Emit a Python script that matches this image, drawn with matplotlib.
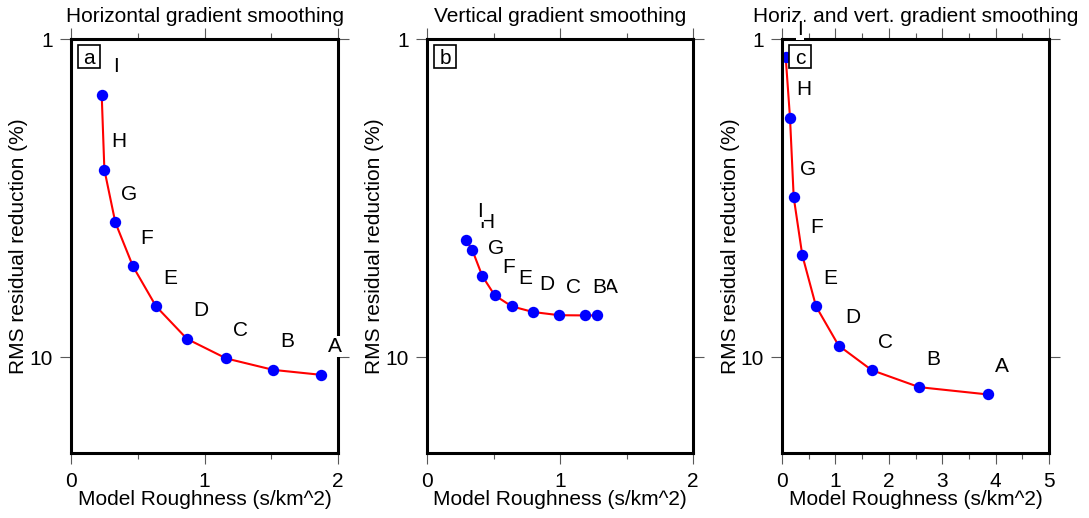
import matplotlib
matplotlib.use("Agg")
import matplotlib.pyplot as plt
from matplotlib.patches import Rectangle
from matplotlib.ticker import FixedLocator, NullLocator

plt.rcParams['font.family'] = ['Liberation Sans', 'DejaVu Sans']

# data (points A..I)
letters = ['A', 'B', 'C', 'D', 'E', 'F', 'G', 'H', 'I']

rough_h = [1.873, 1.515, 1.163, 0.869, 0.637, 0.464, 0.332, 0.250, 0.230]
rms_h = [11.36, 10.96, 10.09, 8.76, 6.92, 5.18, 3.77, 2.575, 1.498]

rough_v = [1.276, 1.190, 0.995, 0.797, 0.637, 0.509, 0.416, 0.341, 0.293]
rms_v = [7.39, 7.39, 7.38, 7.21, 6.92, 6.39, 5.56, 4.61, 4.27]

rough_hv = [3.85, 2.57, 1.68, 1.06, 0.637, 0.38, 0.219, 0.150, 0.069]
rms_hv = [13.09, 12.42, 10.98, 9.19, 6.92, 4.78, 3.14, 1.77, 1.14]

titles = ["Horizontal gradient smoothing", "Vertical gradient smoothing",
          "Horiz. and vert. gradient smoothing"]
panel_tags = ['a', 'b', 'c']
xmax = [2, 2, 5]

W, H = 1089, 518
fig = plt.figure(figsize=(W / 100, H / 100), dpi=100)

# axes placement in pixels: (left, right)
px_lr = [(71, 338), (427, 693), (782, 1049)]
top, bottom = 39, 453

datasets = [(rough_h, rms_h), (rough_v, rms_v), (rough_hv, rms_hv)]

for i, (l, r) in enumerate(px_lr):
    ax = fig.add_axes([l / W, (H - bottom) / H, (r - l) / W, (bottom - top) / H])
    x, y = datasets[i]

    ax.plot(x, y, color='red', lw=1.5, zorder=2)
    ax.plot(x, y, 'o', color='blue', ms=8.2, mec='none', zorder=2)

    # labels drawn A..I so later ones cover earlier ones
    for xi, yi, s in zip(x, y, letters):
        ax.annotate(s, (xi, yi), xytext=(14, 28), textcoords='offset pixels',
                    ha='center', va='center', fontsize=15, zorder=4,
                    bbox=dict(boxstyle='square,pad=0.05', fc='white', ec='none'))

    ax.set_yscale('log')
    ax.set_ylim(20, 1)
    ax.set_xlim(0, xmax[i])
    ax.yaxis.set_major_locator(FixedLocator([1, 10]))
    ax.yaxis.set_minor_locator(NullLocator())
    ax.set_yticklabels(['1', '10'])
    ax.xaxis.set_major_locator(FixedLocator(list(range(xmax[i] + 1))))
    ax.xaxis.set_minor_locator(FixedLocator([k + 0.5 for k in range(xmax[i])]))

    ax.tick_params(which='both', direction='out', top=True, right=True,
                   color='0.35', width=0.8, labelsize=15)
    ax.tick_params(which='major', length=8)
    ax.tick_params(which='minor', length=4.3)
    ax.tick_params(axis='y', pad=5)
    ax.tick_params(axis='x', pad=5.5)
    for sp in ax.spines.values():
        sp.set_linewidth(2.2)
        sp.set_color('black')

    ax.set_title(titles[i], fontsize=15, y=1 + 17 / (bottom - top), pad=0)
    ax.set_xlabel("Model Roughness (s/km^2)", fontsize=15)
    ax.set_ylabel("RMS residual reduction (%)", fontsize=15)
    ax.xaxis.set_label_coords(0.5, -37 / (bottom - top))
    ax.yaxis.set_label_coords(-42.5 / (r - l), 0.5)

    # panel tag box
    bw, bh = 22 / (r - l), 23 / (bottom - top)
    bx, by = 7 / (r - l), 1 - 6 / (bottom - top) - bh
    ax.add_patch(Rectangle((bx, by), bw, bh, transform=ax.transAxes,
                           fc='white', ec='black', lw=1.2, zorder=5))
    ax.text(bx + bw / 2, by + bh / 2, panel_tags[i], transform=ax.transAxes,
            ha='center', va='center_baseline', fontsize=15, zorder=6)

fig.savefig('out.png', dpi=100)
